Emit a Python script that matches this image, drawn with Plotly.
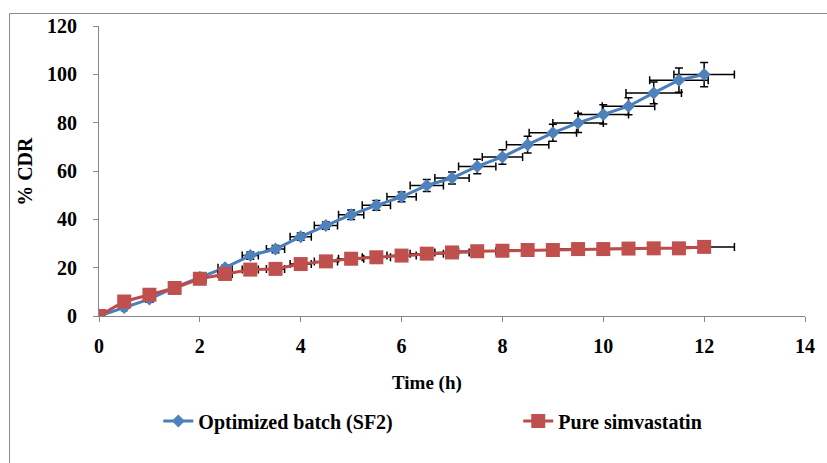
import plotly.graph_objects as go

time_h = [0, 0.5, 1, 1.5, 2, 2.5, 3, 3.5, 4, 4.5, 5, 5.5, 6, 6.5, 7, 7.5, 8, 8.5, 9, 9.5, 10, 10.5, 11, 11.5, 12]

sf2_cdr = [0, 3.5, 7.0, 11.8, 16.0, 20.0, 25.0, 27.7, 32.8, 37.4, 41.9, 45.8, 49.3, 54.0, 57.1,
           61.9, 65.8, 70.9, 75.8, 79.9, 83.4, 86.8, 92.3, 97.6, 99.9]
sf2_err_y = [0, 0.5, 0.5, 0.8, 1.0, 1.0, 1.5, 1.5, 1.5, 1.5, 2.0, 2.0, 2.0, 2.5, 2.5,
             3.0, 3.0, 3.5, 3.5, 4.0, 4.0, 3.5, 4.5, 5.0, 5.0]

pure_cdr = [0, 6.0, 8.8, 11.6, 15.4, 17.4, 19.2, 19.5, 21.5, 22.6, 23.7, 24.3, 25.0, 25.8, 26.3,
            26.8, 27.0, 27.3, 27.3, 27.7, 27.7, 27.9, 28.0, 28.0, 28.6]
pure_err_y = [0, 0.3, 0.3, 0.3, 0.4, 0.4, 0.5, 0.5, 0.5, 0.5, 0.5, 0.5, 0.5, 0.5, 0.5,
              0.5, 0.5, 0.5, 0.5, 0.5, 0.5, 0.5, 0.5, 0.5, 0.5]

time_err = [0, 0.05, 0.07, 0.10, 0.12, 0.14, 0.16, 0.18, 0.21, 0.23, 0.25, 0.28, 0.29, 0.33, 0.34,
            0.37, 0.40, 0.42, 0.47, 0.50, 0.50, 0.52, 0.55, 0.58, 0.60]

x_ticks = [0, 2, 4, 6, 8, 10, 12, 14]
y_ticks = [0, 20, 40, 60, 80, 100, 120]

FONT = "Liberation Serif"
W, H = 827, 463
ML, MR, MT, MB = 99, 14, 26, 147
PW, PH = W - ML - MR, H - MT - MB


def px_x(p):
    return (p - ML) / PW


def px_y(p):
    return (H - MB - p) / PH


err_style = dict(type="data", symmetric=True, color="black", thickness=1.5, width=4)
legend_font = dict(family=FONT, size=20, color="black", weight="bold")

fig = go.Figure()
fig.add_trace(go.Scatter(
    x=time_h, y=sf2_cdr, mode="lines+markers", name="Optimized batch (SF2)",
    line=dict(color="#4a7ebb", width=3),
    marker=dict(symbol="diamond", size=10, color="#4f81bd"),
    error_x=dict(array=time_err, **err_style),
    error_y=dict(array=sf2_err_y, **err_style),
    legend="legend",
))
fig.add_trace(go.Scatter(
    x=time_h, y=pure_cdr, mode="lines+markers", name="Pure simvastatin",
    line=dict(color="#be4b48", width=3),
    marker=dict(symbol="square", size=14, color="#c0504d"),
    error_x=dict(array=time_err, **err_style),
    error_y=dict(array=pure_err_y, **err_style),
    legend="legend2",
))

axis_common = dict(
    showgrid=False, zeroline=False, showline=True, linecolor="#868686", linewidth=1,
    ticks="outside", ticklen=5, tickcolor="#868686",
    tickfont=dict(family=FONT, size=20, color="black", weight="bold"),
)

fig.update_xaxes(range=[0, 14], tickvals=x_ticks, ticklabelstandoff=7, **axis_common)
fig.update_yaxes(range=[0, 120], tickvals=y_ticks, ticklabelstandoff=12, **axis_common)

fig.update_layout(
    width=W, height=H, autosize=False,
    margin=dict(l=ML, r=MR, t=MT, b=MB),
    paper_bgcolor="white", plot_bgcolor="white",
    showlegend=True,
    legend=dict(
        orientation="h", x=px_x(159), y=px_y(421), xanchor="left", yanchor="middle",
        font=legend_font, bgcolor="rgba(0,0,0,0)",
    ),
    legend2=dict(
        orientation="h", x=px_x(523), y=px_y(421), xanchor="left", yanchor="middle",
        font=legend_font, bgcolor="rgba(0,0,0,0)",
    ),
    annotations=[
        dict(text="<b>Time (h)</b>", x=px_x(431), y=px_y(383), xref="paper", yref="paper",
             xanchor="center", yanchor="middle",
             showarrow=False, font=dict(family=FONT, size=19, color="black")),
        dict(text="<b>% CDR</b>", x=px_x(24), y=px_y(171), xref="paper", yref="paper",
             xanchor="center", yanchor="middle",
             showarrow=False, textangle=-90, font=dict(family=FONT, size=20, color="black")),
    ],
    shapes=[
        dict(type="rect", xref="paper", yref="paper",
             x0=px_x(8.5), x1=px_x(840), y0=px_y(480), y1=px_y(13.5),
             line=dict(color="#8c8c8c", width=1), fillcolor="rgba(0,0,0,0)", layer="below"),
    ],
)

fig.write_html("out.html")
